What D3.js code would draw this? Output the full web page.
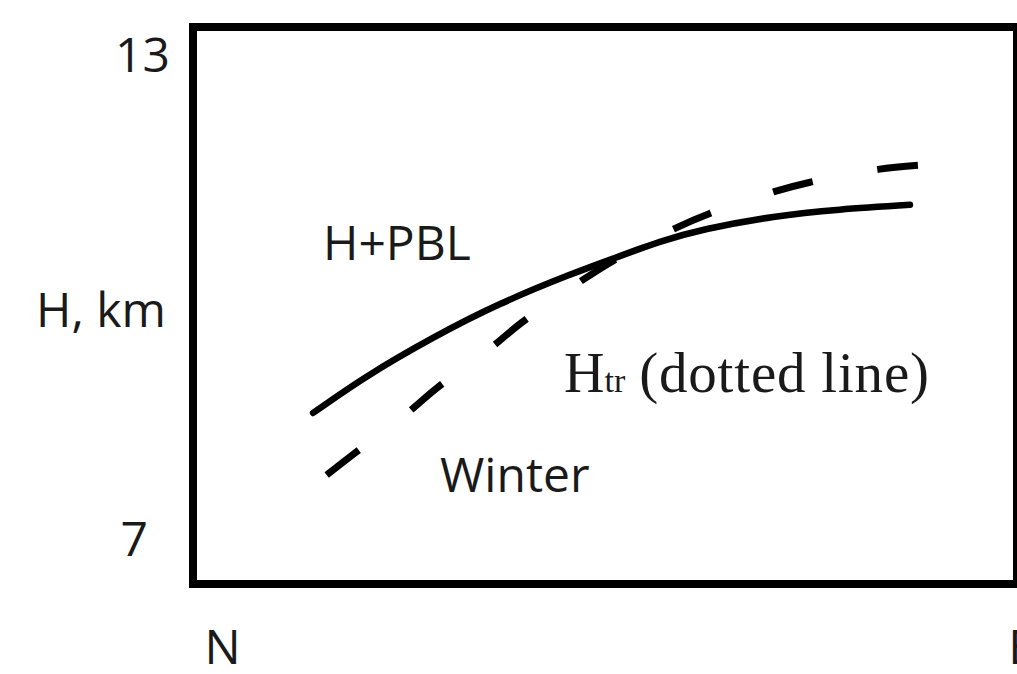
<!DOCTYPE html>
<html>
<head>
<meta charset="utf-8">
<script src="https://cdn.jsdelivr.net/npm/d3@7"></script>
<style>
  html, body { margin: 0; padding: 0; background: #fff; }
  svg { display: block; }
</style>
</head>
<body>
<svg id="chart" width="1017" height="674"></svg>
<script>
// Position along the N → E section (0 = N, 1 = E) and height in km
const xCategories = ["N", "E"];
const xCategoryPos = [0, 1];
const yTicks = [7, 13];

// H + PBL, winter (solid line)
const pblX = [0.114, 0.181, 0.264, 0.348, 0.432, 0.494, 0.548, 0.607, 0.690, 0.773, 0.861];
const pblH = [8.55, 9.00, 9.48, 9.90, 10.25, 10.48, 10.67, 10.83, 10.98, 11.07, 11.13];

// Tropopause height H_tr (dashed line)
const trX = [0.131, 0.166, 0.232, 0.269, 0.333, 0.375, 0.438, 0.492, 0.563, 0.615, 0.690, 0.736, 0.821, 0.871];
const trH = [7.78, 8.05, 8.55, 8.86, 9.33, 9.67, 10.11, 10.45, 10.82, 11.04, 11.29, 11.41, 11.57, 11.62];

const svg = d3.select("#chart");
const sans = "'Open Sans', 'Noto Sans', sans-serif";
const serif = "'Liberation Serif', 'Times New Roman', serif";
const ink = "#1a1a1a";

// plot frame (its right side runs off the page)
const frame = { left: 193, top: 27, right: 1017, bottom: 584 };

const x = d3.scaleLinear().domain([0, 1]).range([222, 1021]);
const y = d3.scaleLinear().domain([7, 13]).range([538, 54]);

svg.append("rect")
  .attr("x", frame.left).attr("y", frame.top)
  .attr("width", frame.right - frame.left)
  .attr("height", frame.bottom - frame.top)
  .attr("fill", "none").attr("stroke", "#000").attr("stroke-width", 8);

// y tick labels
const yAxis = d3.axisLeft(y).tickValues(yTicks).tickFormat(d3.format("d"))
  .tickSize(0).tickPadding(0);
const gy = svg.append("g").attr("transform", "translate(170,0)").call(yAxis);
gy.select(".domain").remove();
gy.selectAll("text")
  .attr("font-family", sans).attr("font-size", 48).attr("fill", ink)
  .attr("dy", "0.36em")
  .attr("dx", d => d === 7 ? -22 : 0);

// x category labels
const xAxis = d3.axisBottom(x).tickValues(xCategoryPos)
  .tickFormat((d, i) => xCategories[i]).tickSize(0).tickPadding(0);
const gx = svg.append("g").attr("transform", "translate(0,664)").call(xAxis);
gx.select(".domain").remove();
gx.selectAll("text")
  .attr("font-family", sans).attr("font-size", 48).attr("fill", ink)
  .attr("dy", 0);

// y axis title
svg.append("text")
  .attr("x", 166).attr("y", 327).attr("text-anchor", "end")
  .attr("font-family", sans).attr("font-size", 48).attr("fill", ink)
  .text("H, km");

const pblLine = d3.line().x(d => x(d[0])).y(d => y(d[1])).curve(d3.curveNatural);
const trLine = d3.line().x(d => x(d[0])).y(d => y(d[1])).curve(d3.curveCatmullRom.alpha(0.5));

svg.append("path")
  .datum(pblX.map((v, i) => [v, pblH[i]]))
  .attr("d", pblLine)
  .attr("fill", "none").attr("stroke", "#000").attr("stroke-width", 6.5)
  .attr("stroke-linecap", "round");

const trPath = svg.append("path")
  .datum(trX.map((v, i) => [v, trH[i]]))
  .attr("d", trLine)
  .attr("fill", "none").attr("stroke", "#000").attr("stroke-width", 7)
  .attr("stroke-linecap", "butt");

// seven dashes, the last one ending at the end of the curve
const len = trPath.node().getTotalLength();
const unit = len / (7 * 40 + 6 * 64);
trPath.attr("stroke-dasharray", `${40 * unit} ${64 * unit}`);

// annotations
svg.append("text")
  .attr("x", 323).attr("y", 260)
  .attr("font-family", sans).attr("font-size", 48).attr("fill", ink)
  .text("H+PBL");

svg.append("text")
  .attr("x", 440).attr("y", 492)
  .attr("font-family", sans).attr("font-size", 48).attr("fill", ink)
  .text("Winter");

const htr = svg.append("text")
  .attr("x", 564).attr("y", 392)
  .attr("font-family", serif).attr("font-size", 56).attr("fill", ink);
htr.append("tspan").text("H");
htr.append("tspan").attr("font-size", 34).text("tr");
htr.append("tspan").attr("dx", 14).attr("font-size", 57)
  .attr("letter-spacing", 0.8).text("(dotted line)");
</script>
</body>
</html>
